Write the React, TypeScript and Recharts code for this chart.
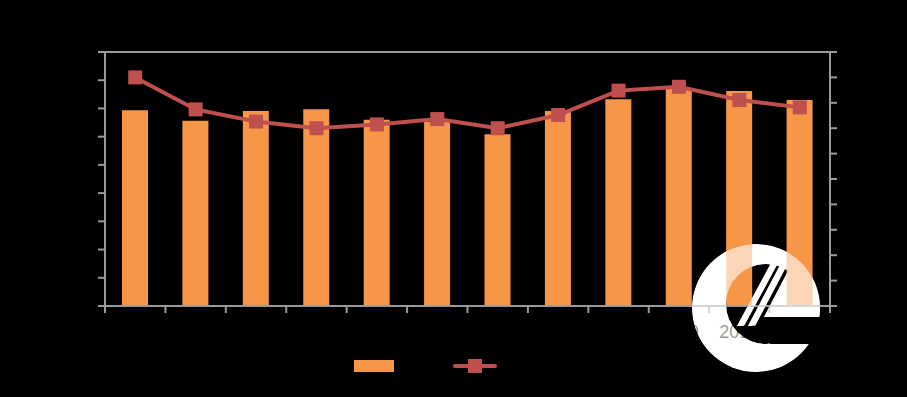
import React from "react";
import {
  ComposedChart,
  Bar,
  Line,
  XAxis,
  YAxis,
  Legend,
  ReferenceLine,
} from "recharts";

// values
const years = ["2000", "2001", "2002", "2003", "2004", "2005", "2006", "2007", "2008", "2009", "2010", "2011"];
const output = [69.4, 65.6, 69.1, 69.7, 66.0, 65.2, 60.9, 69.1, 73.3, 76.9, 76.2, 73.0];
const growth = [9.0, 7.74, 7.26, 7.0, 7.15, 7.36, 7.0, 7.52, 8.48, 8.63, 8.11, 7.82];
const leftTicks = [0, 10, 20, 30, 40, 50, 60, 70, 80, 90];
const rightTicks = [0, 1, 2, 3, 4, 5, 6, 7, 8, 9, 10];
const seriesNames = ["产量", "增长率"];

const data = years.map((year, i) => ({
  year,
  output: output[i],
  growth: growth[i],
}));

const BAR_COLOR = "#f79646";
const LINE_COLOR = "#c0504d";
const AXIS_COLOR = "#9a9a9a";
const TICK_MARGIN = 19;

/* watermark logo, drawn once opaque under the chart and once translucent above it */
const Logo = ({ id, opacity }: { id: string; opacity: number }) => (
  <svg
    width={907}
    height={397}
    style={{ position: "absolute", left: 0, top: 0, opacity, pointerEvents: "none" }}
  >
    <defs>
      <clipPath id={`${id}-clip`}>
        <circle cx={756} cy={308} r={64} />
      </clipPath>
      <mask id={`${id}-mask`} maskUnits="userSpaceOnUse" x={0} y={0} width={907} height={397}>
        <circle cx={756} cy={308} r={64} fill="#fff" />
        <circle cx={766} cy={304} r={40} fill="#000" />
        <rect x={770} y={317} width={80} height={27} fill="#000" />
        <polygon points="778,250 785,250 744,326 737,326" fill="#fff" />
        <polygon points="789,248 796,248 755,326 748,326" fill="#fff" />
        <polygon points="800,248 830,300 830,317 764,317" fill="#fff" />
      </mask>
    </defs>
    <g clipPath={`url(#${id}-clip)`}>
      <rect x={0} y={0} width={907} height={397} fill="#fff" mask={`url(#${id}-mask)`} />
    </g>
  </svg>
);

const renderLegend = () => (
  <div style={{ display: "flex", justifyContent: "center", alignItems: "center", height: 30 }}>
    <svg width={40} height={12}>
      <rect x={0} y={0} width={40} height={12} fill={BAR_COLOR} />
    </svg>
    <span style={{ width: 45, marginLeft: 4, color: "#000", fontSize: 14 }}>{seriesNames[0]}</span>
    <svg width={44} height={16} style={{ marginLeft: 10 }}>
      <line x1={2} y1={8} x2={42} y2={8} stroke={LINE_COLOR} strokeWidth={4} strokeLinecap="round" />
      <rect x={15} y={1} width={14} height={14} fill={LINE_COLOR} />
    </svg>
    <span style={{ width: 52, marginLeft: 4, color: "#000", fontSize: 14 }}>{seriesNames[1]}</span>
  </div>
);

// category label plus Excel-style tick marks on the category boundaries
const YearTick = (props: any) => {
  const { x, y, payload, index } = props;
  const half = payload && payload.offset ? payload.offset : 725 / 24;
  const top = y - TICK_MARGIN;
  return (
    <g>
      <line x1={x - half} y1={top} x2={x - half} y2={top + 7} stroke={AXIS_COLOR} strokeWidth={2} />
      {index === years.length - 1 && (
        <line x1={x + half} y1={top} x2={x + half} y2={top + 7} stroke={AXIS_COLOR} strokeWidth={2} />
      )}
      <text x={x} y={y} dy="0.71em" textAnchor="middle" fill="#000" fontSize={18}>
        {payload.value}
      </text>
    </g>
  );
};

const SquareDot = (props: any) => {
  const { cx, cy, index } = props;
  if (cx == null || cy == null) return <g key={index} />;
  return <rect key={index} x={cx - 7} y={cy - 7} width={14} height={14} fill={LINE_COLOR} />;
};

export default function App() {
  return (
    <div
      style={{
        position: "absolute",
        left: 0,
        top: 0,
        width: 907,
        height: 397,
        background: "#000",
        overflow: "hidden",
        fontFamily: "'Liberation Sans', Arial, sans-serif",
      }}
    >
      <Logo id="under" opacity={1} />
      <div style={{ position: "absolute", left: 0, top: 0 }}>
        <ComposedChart
          width={907}
          height={397}
          data={data}
          margin={{ top: 52, right: 17, bottom: 16, left: 45 }}
        >
          <XAxis
            dataKey="year"
            height={45}
            axisLine={{ stroke: AXIS_COLOR, strokeWidth: 2 }}
            tickLine={false}
            tickSize={0}
            tickMargin={TICK_MARGIN}
            tick={<YearTick />}
            interval={0}
          />
          <YAxis
            yAxisId="left"
            width={60}
            domain={[0, 90]}
            ticks={leftTicks}
            axisLine={{ stroke: AXIS_COLOR, strokeWidth: 2 }}
            tickLine={{ stroke: AXIS_COLOR, strokeWidth: 2 }}
            tickSize={7}
            tick={{ fill: "#000", fontSize: 16 }}
          />
          <YAxis
            yAxisId="right"
            orientation="right"
            width={60}
            domain={[0, 10]}
            ticks={rightTicks}
            axisLine={{ stroke: AXIS_COLOR, strokeWidth: 2 }}
            tickLine={{ stroke: AXIS_COLOR, strokeWidth: 2 }}
            tickSize={7}
            tick={{ fill: "#000", fontSize: 16 }}
          />
          <ReferenceLine
            yAxisId="left"
            y={leftTicks[leftTicks.length - 1]}
            stroke={AXIS_COLOR}
            strokeWidth={2}
          />
          <Legend
            verticalAlign="bottom"
            height={30}
            wrapperStyle={{ left: 0, width: 907 }}
            content={renderLegend}
          />
          <Bar
            yAxisId="left"
            dataKey="output"
            name={seriesNames[0]}
            fill={BAR_COLOR}
            barSize={26}
            isAnimationActive={false}
          />
          <Line
            yAxisId="right"
            dataKey="growth"
            name={seriesNames[1]}
            type="linear"
            stroke={LINE_COLOR}
            strokeWidth={4}
            dot={SquareDot}
            activeDot={false}
            isAnimationActive={false}
          />
        </ComposedChart>
      </div>
      <Logo id="over" opacity={0.6} />
    </div>
  );
}
